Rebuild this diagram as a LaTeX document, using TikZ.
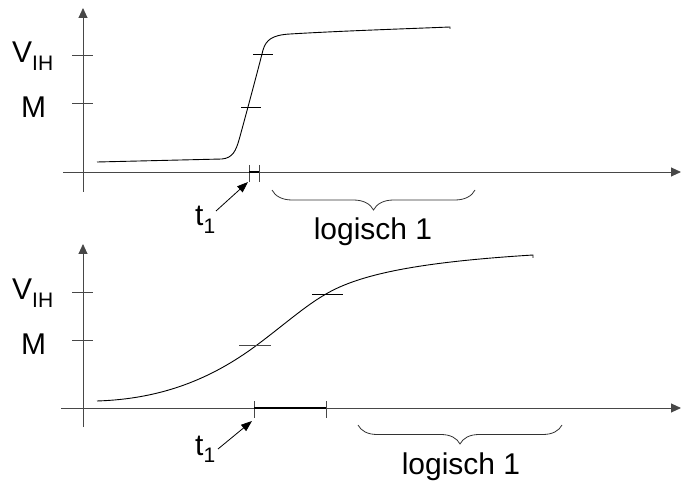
\documentclass[tikz,border=0pt]{standalone}
\usepackage{fontspec}
\setmainfont{Liberation Sans}
\usetikzlibrary{arrows.meta,decorations.pathreplacing}
\tikzset{
  axisline/.style={draw=black!72, line width=0.9pt, -{Triangle[length=10pt,width=9pt]}},
  tickmark/.style={draw=black!72, line width=0.9pt},
  curveline/.style={draw=black, line width=0.9pt},
  spanline/.style={draw=black, line width=2pt},
  lbl/.style={font=\fontsize{30}{36}\selectfont, inner sep=0pt},
  pointer/.style={draw=black, line width=0.8pt, -{Triangle[length=11pt,width=8pt]}},
  bracedeco/.style={draw=black!80, line width=0.8pt, decorate,
    decoration={brace, mirror, amplitude=#1}},
}
\newcommand{\subsc}[2]{\raisebox{-#1}{\fontsize{21}{21}\selectfont #2}}
\begin{document}
\begin{tikzpicture}[x=1pt,y=-1pt]
\useasboundingbox (0,0) rectangle (681,484);

% ---------- top panel ----------
\coordinate (yaB1) at (83,192);
\coordinate (yaT1) at (83,8);
\coordinate (xaL1) at (63,172);
\coordinate (xaR1) at (681,172);
\draw[axisline] (xaL1) -- (xaR1);
\draw[axisline] (yaB1) -- (yaT1);
\draw[tickmark] (72,55) -- (93,55);
\draw[tickmark] (72,103) -- (93,103);
\node[lbl, anchor=base west] (vih1) at (12,63) {V\subsc{8pt}{IH}};
\node[lbl, anchor=base west] (m1) at (21,118) {M};

\draw[curveline] (97,162) -- (222,159)
  .. controls (233,158) and (236,150) .. (239,140)
  .. controls (244,122) and (258,70) .. (263,50)
  .. controls (266,40) and (272,35) .. (290,34)
  .. controls (340,31) and (400,29) .. (450,27) -- (450,29);
\draw[curveline] (241,107) -- (261,107);
\draw[curveline] (253,54) -- (273,54);

\draw[tickmark] (249,165) -- (249,182);
\draw[tickmark] (259,165) -- (259,182);
\draw[spanline] (249,172) -- (259,172);

\node[lbl, anchor=base west] (t1a) at (195,226) {t\subsc{7pt}{1}};
\coordinate (pA1) at (216,211);
\coordinate (pB1) at (248,182);
\draw[pointer] (pA1) -- (pB1);

\coordinate (brL1) at (272,190);
\coordinate (brR1) at (475,190);
\draw[bracedeco=20pt] (brL1) -- (brR1);
\node[lbl, anchor=base] (log1) at (373,240) {logisch 1};

% ---------- bottom panel ----------
\coordinate (yaB2) at (83,427);
\coordinate (yaT2) at (83,244);
\coordinate (xaL2) at (61,408);
\coordinate (xaR2) at (681,408);
\draw[axisline] (xaL2) -- (xaR2);
\draw[axisline] (yaB2) -- (yaT2);
\draw[tickmark] (72,292) -- (93,292);
\draw[tickmark] (72,340) -- (93,340);
\node[lbl, anchor=base west] (vih2) at (12,299) {V\subsc{8pt}{IH}};
\node[lbl, anchor=base west] (m2) at (21,354) {M};

\draw[curveline] (97,401)
  .. controls (160,399) and (210,380) .. (257,345)
  .. controls (285,324) and (305,306) .. (326,294)
  .. controls (360,274) and (420,262) .. (533,255) -- (533,258);
\draw[tickmark] (239,345) -- (271,345);
\draw[curveline] (312,294) -- (343,294);

\draw[tickmark] (254,401) -- (254,418);
\draw[tickmark] (326,401) -- (326,418);
\draw[spanline] (254,408) -- (326,408);

\node[lbl, anchor=base west] (t1b) at (195,455) {t\subsc{7pt}{1}};
\coordinate (pA2) at (218,449);
\coordinate (pB2) at (252,421);
\draw[pointer] (pA2) -- (pB2);

\coordinate (brL2) at (358,425);
\coordinate (brR2) at (562,425);
\draw[bracedeco=19pt] (brL2) -- (brR2);
\node[lbl, anchor=base] (log2) at (461,474) {logisch 1};
\end{tikzpicture}
\end{document}
